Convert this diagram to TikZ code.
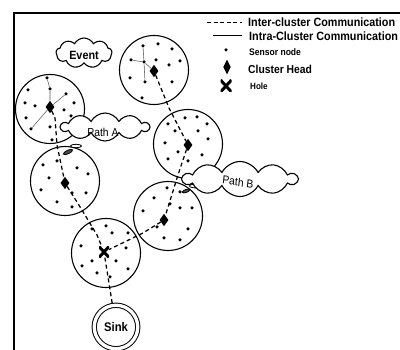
\documentclass[tikz,border=0pt]{standalone}
\usepackage{fontspec}
\setmainfont{Liberation Sans}
\usetikzlibrary{shapes.geometric,shapes.symbols}
\begin{document}
\begin{tikzpicture}[x=1pt,y=-1pt,
  cluster/.style={circle, draw, line width=1.1pt, fill=white, minimum size=69pt, inner sep=0pt},
  sdot/.style={circle, fill=black, minimum size=3.5pt, inner sep=0pt},
  chead/.style={diamond, fill=black, minimum width=9pt, minimum height=12.5pt, inner sep=0pt},
  holemark/.style={rectangle, inner sep=0pt, minimum width=10pt, minimum height=11pt,
    path picture={\draw[line width=3pt]
      (path picture bounding box.north west) -- (path picture bounding box.south east)
      (path picture bounding box.north east) -- (path picture bounding box.south west);}},
  inter/.style={line width=1.25pt, dash pattern=on 4pt off 3pt},
  intra/.style={line width=0.55pt, black!65},
  cloudbox/.style={cloud, draw, fill=white, line width=1.1pt, inner sep=0pt, cloud puff arc=125},
  tail/.style={ellipse, draw, fill=white, line width=0.8pt, inner sep=0pt},
  legtext/.style={anchor=west, inner sep=0pt, xscale=0.9},
  frame/.style={line width=1.3pt}
]
\useasboundingbox (0,0) rectangle (400,350);

% frame
\coordinate (fr0) at (14,13);
\coordinate (fr1) at (400,13);
\coordinate (fr2) at (14,351);
\draw[frame] (fr1) -- (fr0) -- (fr2);

% clusters
\node[cluster] (c1) at (50,109) {};
\node[cluster] (c2) at (154,70) {};
\node[cluster] (c3) at (188,144) {};
\node[cluster] (c4) at (65,181) {};
\node[cluster] (c5) at (168,216) {};
\node[cluster] (c6) at (106,253) {};

% sensor nodes
\foreach \p [count=\i] in {(47,78),(50,89),(66,94),(28,90),(25,103),(35,106),(74,103),(64,110),(26,118),(71,116),(31,129),(50,127),(52,140)}
  \node[sdot] (a\i) at \p {};
\foreach \p [count=\i] in {(143,46),(158,44),(172,49),(131,60),(144,62),(156,60),(169,65),(180,61),(130,78),(145,82),(172,82),(142,98)}
  \node[sdot] (b\i) at \p {};
\foreach \p [count=\i] in {(168,124),(185,118),(197,117),(207,124),(175,131),(198,131),(208,139),(165,143),(178,152),(202,155),(168,159),(188,161)}
  \node[sdot] (e\i) at \p {};
\foreach \p [count=\i] in {(43,165),(57,161),(77,168),(88,174),(49,178),(41,190),(72,193),(86,193),(57,202),(72,207)}
  \node[sdot] (f\i) at \p {};
\foreach \p [count=\i] in {(167,188),(180,192),(154,198),(170,204),(180,208),(192,208),(143,211),(157,227),(188,229),(164,238),(180,240)}
  \node[sdot] (g\i) at \p {};
\foreach \p [count=\i] in {(92,229),(106,226),(112,233),(128,233),(81,246),(126,248),(92,261),(116,261),(82,266),(97,273),(128,269),(110,277)}
  \node[sdot] (h\i) at \p {};

% cluster heads and hole
\node[chead] (ch1) at (50,107) {};
\node[chead] (ch2) at (154,71) {};
\node[chead] (ch3) at (188,145) {};
\node[chead] (ch4) at (65,183) {};
\node[chead] (ch5) at (164,220) {};
\node[holemark] (hx) at (104,252) {};

% sink
\node[circle, draw, double, double distance=3.3pt, line width=1pt, minimum size=43.5pt, inner sep=0pt,
      font=\bfseries\fontsize{12.5}{13}\selectfont] (sink) at (116,327) {\scalebox{0.9}[1]{Sink}};

% intra-cluster links
\draw[intra] (a1) -- (a2) -- (ch1);
\draw[intra] (ch1) -- (a3);
\draw[intra] (ch1) -- (a11);
\draw[intra] (b1) -- (b5) -- (b10);
\draw[intra] (b4) -- (b5) -- (ch2);

% inter-cluster links
\coordinate (w1) at (169,108);
\coordinate (w2) at (178,175);
\coordinate (w3) at (143,233);
\coordinate (w4) at (55,118);
\coordinate (w5) at (57,145);
\coordinate (w6) at (82,210);
\coordinate (w7) at (97,235);
\draw[inter] (ch2) -- (w1) -- (ch3);
\draw[inter] (ch3) -- (w2) -- (ch5);
\draw[inter] (ch5) -- (w3) -- (hx);
\draw[inter] (ch1) -- (w4) -- (w5) -- (ch4);
\draw[inter] (ch4) -- (w6) -- (w7) -- (hx);
\draw[inter] (hx) -- (sink);

% clouds
\node[cloudbox, cloud puffs=9, minimum width=56pt, minimum height=30pt] (ev) at (84,53) {};
\node[font=\bfseries\fontsize{12}{13}\selectfont, xscale=0.9, inner sep=0pt] (evt) at (84,55) {Event};

\node[tail, minimum width=11pt, minimum height=3.5pt] (ta1) at (76,146) {};
\node[tail, minimum width=10pt, minimum height=3.5pt, rotate=25, fill=black!70] (ta2) at (68,152) {};
\node[cloudbox, cloud puffs=10, minimum width=88pt, minimum height=28pt] (pa) at (105,127) {};
\node[font=\fontsize{11.5}{12}\selectfont, xscale=0.9, inner sep=0pt] (pat) at (103,132) {Path A};

\node[tail, minimum width=15pt, minimum height=4pt] (tb1) at (197,186) {};
\node[tail, minimum width=8pt, minimum height=3pt, rotate=20, fill=black!70] (tb2) at (186,191) {};
\node[cloudbox, cloud puffs=10, minimum width=114pt, minimum height=35pt] (pb) at (240,179) {};
\node[font=\fontsize{11.5}{12}\selectfont, xscale=0.9, inner sep=0pt, rotate=-7] (pbt) at (238,182) {Path B};

% legend
\coordinate (l1a) at (207,22);
\coordinate (l1b) at (242,22);
\coordinate (l2a) at (213,35);
\coordinate (l2b) at (242,35);
\draw[line width=0.9pt, dash pattern=on 4pt off 2.6pt] (l1a) -- (l1b);
\draw[line width=0.9pt] (l2a) -- (l2b);
\node[sdot] (ldot) at (226,50) {};
\node[diamond, fill=black, minimum width=7.5pt, minimum height=15pt, inner sep=0pt] (ldia) at (227,67) {};
\node[holemark, minimum width=11pt, minimum height=12pt] (lx) at (226,86) {};

\node[legtext, font=\bfseries\fontsize{12}{13}\selectfont] (t1) at (248,22) {Inter-cluster Communication};
\node[legtext, font=\bfseries\fontsize{12}{13}\selectfont] (t2) at (249,36) {Intra-Cluster Communication};
\node[legtext, font=\bfseries\fontsize{9.5}{10}\selectfont] (t3) at (249,52) {Sensor node};
\node[legtext, font=\bfseries\fontsize{11.5}{12}\selectfont] (t4) at (248,69) {Cluster Head};
\node[legtext, font=\bfseries\fontsize{9}{10}\selectfont] (t5) at (250,86) {Hole};
\end{tikzpicture}
\end{document}
